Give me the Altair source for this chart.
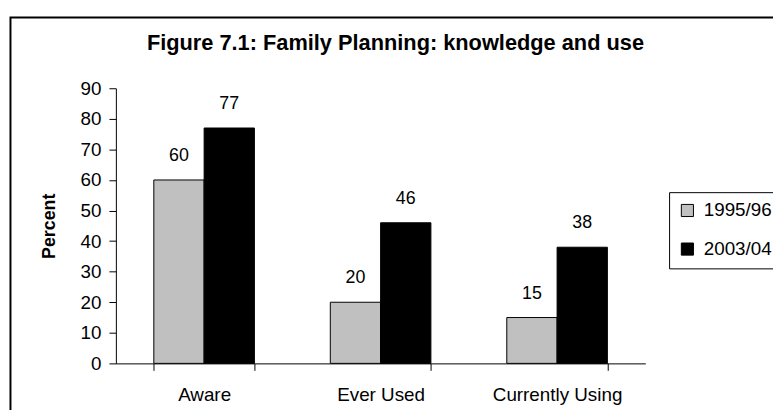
import altair as alt
import pandas as pd

categories = ["Aware", "Ever Used", "Currently Using"]
years = ["1995/96", "2003/04"]
values_1995 = [60, 20, 15]
values_2003 = [77, 46, 38]
y_ticks = list(range(0, 100, 10))
colors = ["#C0C0C0", "#000000"]

rows = []
for c, a, b in zip(categories, values_1995, values_2003):
    rows.append({"category": c, "year": years[0], "value": a})
    rows.append({"category": c, "year": years[1], "value": b})
df = pd.DataFrame(rows)

FONT = "Liberation Sans"

base = alt.Chart(df).encode(
    x=alt.X(
        "category:N",
        sort=categories,
        scale=alt.Scale(paddingInner=0.43, paddingOuter=0.215),
        axis=alt.Axis(
            title=None, labelAngle=0, tickBand="extent", tickSize=7,
            labelPadding=31, labelBaseline="alphabetic", labelFontSize=19,
            domainColor="black", tickColor="black", labelColor="black",
            labelFont=FONT,
        ),
    ),
    xOffset=alt.XOffset("year:N", sort=years),
    y=alt.Y(
        "value:Q",
        scale=alt.Scale(domain=[0, 90], nice=False),
        axis=alt.Axis(
            values=y_ticks, title="Percent", tickSize=7, labelPadding=8,
            labelFontSize=19, labelFont=FONT, labelColor="black",
            domainColor="black", tickColor="black", grid=False,
            titleFontSize=18, titleFont=FONT, titleFontWeight="bold",
            titleColor="black", titleX=-67, titleY=139, titleAlign="center",
            titleBaseline="middle", titleAngle=270,
        ),
    ),
)

bars = base.mark_bar(stroke="black", strokeWidth=1).encode(
    color=alt.Color(
        "year:N",
        sort=years,
        scale=alt.Scale(domain=years, range=colors),
        legend=alt.Legend(
            title=None, orient="none", legendX=559, legendY=105,
            symbolType="square", symbolSize=150, symbolStrokeColor="black",
            symbolStrokeWidth=1, labelFontSize=19, labelFont=FONT,
            labelColor="black", labelOffset=7, rowPadding=19, padding=9,
            strokeColor="black",
        ),
    )
)

labels = base.mark_text(
    dy=-19, baseline="alphabetic", fontSize=18, font=FONT, color="black"
).encode(text="value:Q")

frame = alt.Chart(alt.Data(values=[{"a": 1}])).mark_rect(
    filled=False, stroke="black", strokeWidth=2
).encode(
    x=alt.value(-106.5), y=alt.value(-71.5), x2=alt.value(800), y2=alt.value(500)
)

chart = alt.layer(bars, labels, frame).properties(
    width=535,
    height=278,
    autosize=alt.AutoSizeParams(type="none"),
    padding={"left": 109, "top": 79, "right": 129, "bottom": 45},
    title=alt.Title(
        "Figure 7.1: Family Planning: knowledge and use",
        fontSize=22, fontWeight="bold", font=FONT, color="black",
        anchor="middle", dx=15, dy=43,
    ),
).configure_view(stroke=None)

chart.save("out.html", embed_options={"renderer": "svg", "actions": False})
